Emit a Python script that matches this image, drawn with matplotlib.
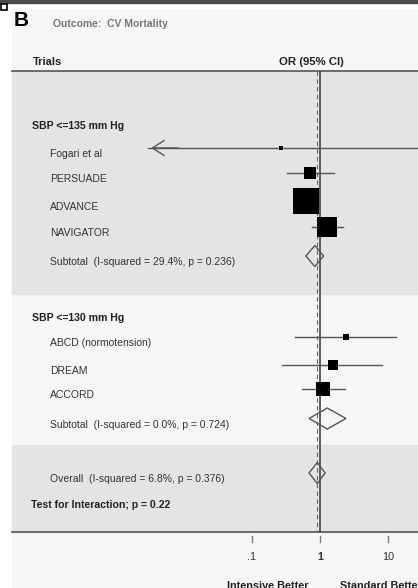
import numpy as np
import matplotlib.pyplot as plt
import matplotlib.transforms as mtransforms
from matplotlib.patches import Rectangle, Polygon

plt.rcParams['font.family'] = ['Liberation Sans', 'DejaVu Sans']

# Trials, odds ratios and 95% CI
groups = ['SBP <=135 mm Hg', 'SBP <=130 mm Hg']
trials = ['Fogari et al', 'PERSUADE', 'ADVANCE', 'NAVIGATOR',
          'ABCD (normotension)', 'DREAM', 'ACCORD']
trial_or = [0.27, 0.72, 0.62, 1.28, 2.41, 1.53, 1.09]
trial_lo = [0.001, 0.33, 0.45, 0.77, 0.43, 0.28, 0.54]
trial_hi = [80.0, 1.62, 0.90, 2.15, 13.0, 8.25, 2.36]
trial_weight = [0.5, 10.2, 43.9, 24.1, 2.9, 4.9, 13.5]

subtotal_labels = ['Subtotal  (I-squared = 29.4%, p = 0.236)',
                   'Subtotal  (I-squared = 0.0%, p = 0.724)']
subtotal_or = [0.84, 1.28]
subtotal_lo = [0.62, 0.69]
subtotal_hi = [1.13, 2.41]

overall_label = 'Overall  (I-squared = 6.8%, p = 0.376)'
overall_or, overall_lo, overall_hi = 0.91, 0.69, 1.19
interaction_label = 'Test for Interaction; p = 0.22'

tick_vals = [0.1, 1, 10]
tick_labels = ['.1', '1', '10']

# layout in pixels (y grows downward)
W, H = 418, 588
x_one, decade = 320, 68          # pixel of OR = 1, pixels per decade
clip_lo, clip_hi = 0.003, 40      # CI lines are cut (with arrow) here
group_y = [126, 318]
trial_y = [148, 173, 200.5, 227, 337, 364.5, 389]
subtotal_y = [256, 418.5]
overall_y = 473
interaction_y = 504
txt_dy = 5

fig = plt.figure(figsize=(W / 100, H / 100), dpi=100, facecolor='white')
ax = fig.add_axes([0, 0, 1, 1])
ax.set_xscale('log')
ax.set_xlim(10 ** (-x_one / decade), 10 ** ((W - x_one) / decade))
ax.set_ylim(H, 0)
ax.axis('off')

tr = mtransforms.blended_transform_factory(ax.transAxes, ax.transData)
left = 12 / W

# backgrounds
ax.add_patch(Rectangle((0, 0), 1, 3, transform=tr, color='#4a4a4a', zorder=0))
ax.add_patch(Rectangle((1 / W, 4), 6 / W, 6, transform=tr, facecolor='white',
                       edgecolor='black', lw=1.2, zorder=3))
ax.axhspan(10, H, xmin=left, color='#f6f6f6', zorder=0)
ax.axhspan(71, 294, xmin=left, color='#e4e4e4', zorder=0)
ax.axhspan(445, 532, xmin=left, color='#e4e4e4', zorder=0)
ax.axhline(71, xmin=left, color='#555555', lw=1.2, zorder=1)
ax.axhline(532, xmin=left, color='#555555', lw=1.2, zorder=1)

# reference lines
ax.vlines(1, 71, 532, color='#444444', lw=1.2, zorder=2)
ax.vlines(overall_or, 71, 532, color='#666666', lw=0.8, linestyles=(0, (4, 3)), zorder=2)

# titles
ax.text(14 / W, 21, 'B', transform=tr, fontsize=15, fontweight='bold', va='center')
ax.text(53 / W, 24, 'Outcome:  CV Mortality', transform=tr, fontsize=7.5,
        fontweight='bold', color='#777777', va='center')
ax.text(33 / W, 62, 'Trials', transform=tr, fontsize=8, fontweight='bold',
        color='#222222', va='center')
ax.text(311 / W, 62, 'OR (95% CI)', transform=tr, fontsize=8.2, fontweight='bold',
        color='#222222', va='center', ha='center')

for g, y in zip(groups, group_y):
    ax.text(32 / W, y, g, transform=tr, fontsize=7.6, fontweight='bold',
            color='#222222', va='center')

# trials: CI line, weighted square, label
for name, o, lo, hi, w, y in zip(trials, trial_or, trial_lo, trial_hi, trial_weight, trial_y):
    a, b = max(lo, clip_lo), min(hi, clip_hi)
    ax.plot([a, b], [y, y], color='#555555', lw=1, zorder=3)
    if lo < clip_lo:
        ax.annotate('', xy=(clip_lo, y), xytext=(clip_lo * 3, y),
                    arrowprops=dict(arrowstyle='->,head_length=0.85,head_width=0.55',
                                    color='#555555', lw=1, mutation_scale=10), zorder=3)
    side = 4.07 * np.sqrt(w) * 0.72
    ax.plot(o, y, marker='s', ms=max(side, 3), color='black', mec='black', mew=0, zorder=4)
    ax.text(50 / W, y + txt_dy, name, transform=tr, fontsize=7.5, color='#333333',
            va='center_baseline')

# pooled estimates as diamonds
def diamond(o, lo, hi, y):
    ax.add_patch(Polygon([(lo, y), (o, y - 10.5), (hi, y), (o, y + 10.5)], closed=True,
                         facecolor='none', edgecolor='#555555', lw=1, zorder=4))

for lab, o, lo, hi, y in zip(subtotal_labels, subtotal_or, subtotal_lo, subtotal_hi, subtotal_y):
    diamond(o, lo, hi, y)
    ax.text(50 / W, y + txt_dy, lab, transform=tr, fontsize=7.5, color='#333333',
            va='center_baseline')

diamond(overall_or, overall_lo, overall_hi, overall_y)
ax.text(50 / W, overall_y + txt_dy, overall_label, transform=tr, fontsize=7.5,
        color='#333333', va='center_baseline')
ax.text(31 / W, interaction_y, interaction_label, transform=tr, fontsize=7.6,
        fontweight='bold', color='#222222', va='center_baseline')

# x axis
for v, t in zip(tick_vals, tick_labels):
    ax.plot([v, v], [536, 542], color='#777777', lw=1)
    ax.text(v, 556, t, fontsize=7.8, ha='center', va='center_baseline', color='#333333',
            fontweight='bold' if v == 1 else 'normal')
ax.text(268 / W, 581, 'Intensive Better', transform=tr, fontsize=7.8, fontweight='bold',
        ha='center', va='top', color='#222222')
ax.text(340 / W, 581, 'Standard Better', transform=tr, fontsize=7.8, fontweight='bold',
        ha='left', va='top', color='#222222')

fig.savefig('out.png', dpi=100, facecolor='white')
